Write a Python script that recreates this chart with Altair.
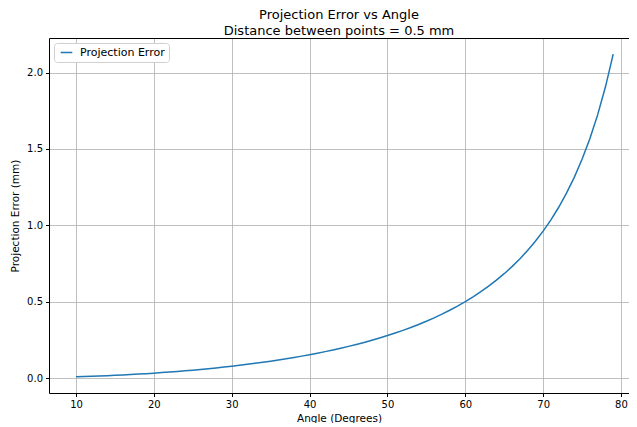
import altair as alt
import pandas as pd

angles = list(range(10, 80))
errors = [
    0.00771, 0.00936, 0.01117, 0.01315, 0.01530, 0.01764, 0.02015, 0.02284, 0.02573, 0.02881,
    0.03209, 0.03557, 0.03927, 0.04318, 0.04732, 0.05169, 0.05630, 0.06116, 0.06629, 0.07168,
    0.07735, 0.08332, 0.08959, 0.09618, 0.10311, 0.11039, 0.11803, 0.12607, 0.13451, 0.14338,
    0.15270, 0.16250, 0.17282, 0.18366, 0.19508, 0.20711, 0.21978, 0.23314, 0.24724, 0.26212,
    0.27786, 0.29451, 0.31213, 0.33082, 0.35065, 0.37172, 0.39414, 0.41804, 0.44354, 0.47080,
    0.50000, 0.53134, 0.56503, 0.60134, 0.64059, 0.68310, 0.72930, 0.77965, 0.83474, 0.89521,
    0.96190, 1.03577, 1.11803, 1.21015, 1.31398, 1.43185, 1.56679, 1.72271, 1.90487, 2.12042,
]
x_ticks = [10, 20, 30, 40, 50, 60, 70, 80]
y_ticks = [0.0, 0.5, 1.0, 1.5, 2.0]

df = pd.DataFrame({"angle": angles, "error": errors, "series": "Projection Error"})

FONT = "DejaVu Sans"
x_scale = alt.Scale(domain=[6.53, 81.03], nice=False, zero=False)
y_scale = alt.Scale(domain=[-0.098, 2.226], nice=False, zero=False)

y_enc = alt.Y(
    "error:Q",
    title="Projection Error (mm)",
    scale=y_scale,
    axis=alt.Axis(values=y_ticks, format=".1f", domain=True, domainColor="black", domainWidth=1),
)

main = (
    alt.Chart(df)
    .mark_line(color="#1f77b4", strokeWidth=1.5, clip=True)
    .encode(
        x=alt.X(
            "angle:Q",
            title="Angle (Degrees)",
            scale=x_scale,
            axis=alt.Axis(values=x_ticks, format="d", domain=True, domainColor="black", domainWidth=1),
        ),
        y=y_enc,
        color=alt.Color(
            "series:N",
            scale=alt.Scale(range=["#1f77b4"]),
            legend=alt.Legend(
                title=None,
                orient="top-left",
                offset=5,
                symbolType="M-1.45,0L1.45,0",
                symbolSize=64,
                symbolStrokeWidth=1.5,
                symbolOffset=3,
                labelFont=FONT,
                labelFontSize=11,
                labelColor="black",
                labelOffset=8,
                strokeColor="#d0d0d0",
                fillColor="white",
                padding=4,
                cornerRadius=3,
            ),
        ),
    )
)

top_spine = (
    alt.Chart(df)
    .mark_line(opacity=0)
    .encode(
        x=alt.X(
            "angle:Q",
            scale=x_scale,
            axis=alt.Axis(
                orient="top", title=None, labels=False, ticks=False, grid=False,
                domain=True, domainColor="black", domainWidth=1,
            ),
        ),
        y=y_enc,
    )
)

chart = (
    alt.layer(main, top_spine)
    .resolve_axis(x="independent")
    .properties(
        width=580,
        height=355,
        title=alt.TitleParams(
            text=["Projection Error vs Angle", "Distance between points = 0.5 mm"],
            font=FONT,
            fontSize=13,
            fontWeight="normal",
            color="black",
            anchor="middle",
            offset=0,
            lineHeight=16,
        ),
        autosize=alt.AutoSizeParams(type="none"),
        padding={"left": 41, "top": 30, "right": 0, "bottom": 30},
    )
    .configure_view(stroke=None)
    .configure_axis(
        labelFont=FONT,
        labelFontSize=10,
        labelColor="black",
        titleFont=FONT,
        titleFontSize=10.5,
        titleFontWeight="normal",
        titleColor="black",
        grid=True,
        gridColor="#b0b0b0",
        gridWidth=0.8,
        tickColor="black",
        tickSize=3.5,
        labelPadding=3,
    )
    .configure_axisX(titlePadding=4)
    .configure_axisY(titlePadding=6)
)

chart.save("out.html", embed_options={"renderer": "svg", "actions": False})
